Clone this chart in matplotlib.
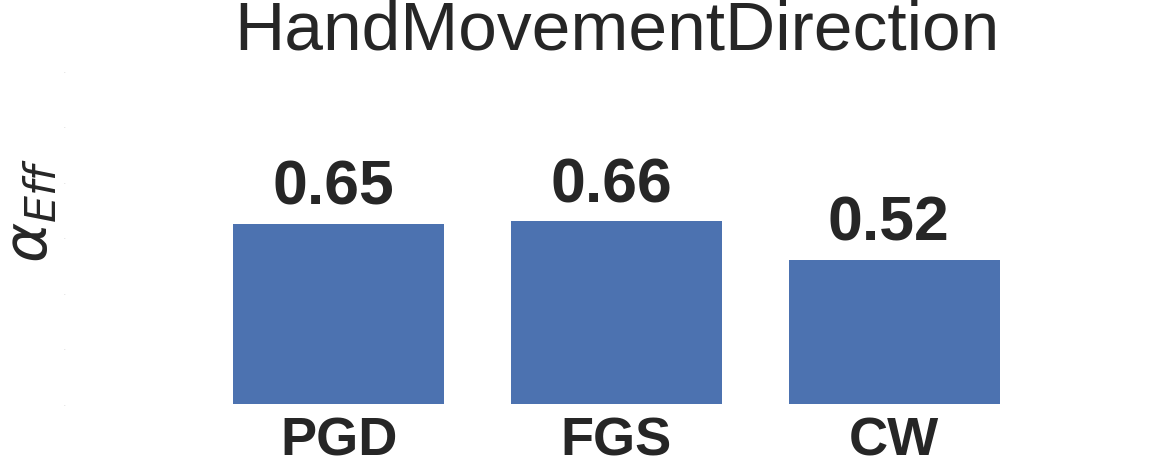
import matplotlib
matplotlib.use("Agg")
import matplotlib.pyplot as plt

categories = ["PGD", "FGS", "CW"]
values = [0.65, 0.66, 0.52]
title = "HandMovementDirection"
yticks = [0.0, 0.2, 0.4, 0.6, 0.8, 1.0, 1.2]

W, H = 1159, 465
fig = plt.figure(figsize=(W / 100, H / 100), dpi=100)
left, right, bottom, top = 68, 1033, 404, 71.6
ax = fig.add_axes([left / W, 1 - bottom / H, (right - left) / W, (bottom - top) / H])

x = list(range(len(categories)))
ax.bar(x, values, width=0.76, color="#4c72b0")
ax.set_xlim(-0.975, 2.5)
ax.set_ylim(0, 1.2)
ax.set_xticks(x)
ax.set_xticklabels(categories, fontsize=39, fontweight="bold",
                   family="Liberation Sans", color="#262626")
ax.set_yticks(yticks)
ax.set_yticklabels(["."] * len(yticks), fontsize=4, color="#aaaaaa",
                   va="center")
ax.tick_params(axis="both", length=0, pad=2)
ax.tick_params(axis="x", pad=9)
for s in ax.spines.values():
    s.set_visible(False)

for xi, v in zip(x, values):
    ax.text(xi - 0.02, v + 0.022, f"{v:.2f}", ha="center", va="bottom", fontsize=45,
            fontweight="bold", family="Liberation Sans", color="#262626")

fig.text(617 / W, 1 - 31 / H, title, ha="center", va="center", fontsize=50,
         family="Liberation Sans", color="#262626")
fig.text(31 / W, 1 - 211 / H, r"$\alpha_{Eff}$", rotation=90, ha="center",
         va="center", fontsize=44, color="#262626")

fig.savefig("out.png", dpi=100)
